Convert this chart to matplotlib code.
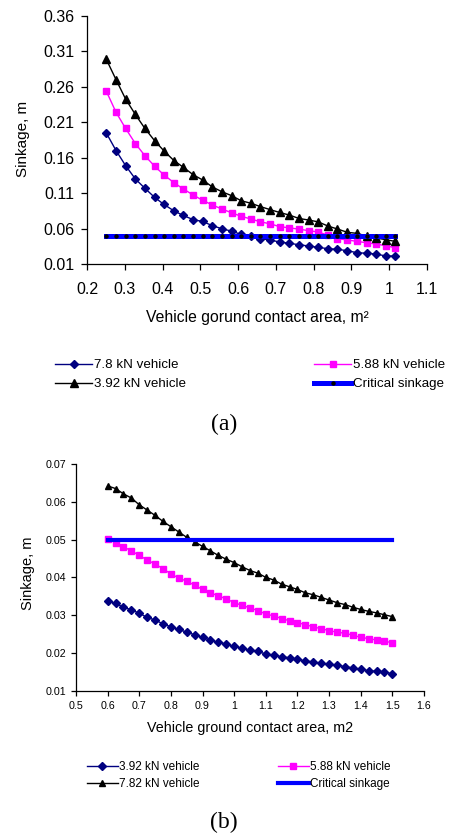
import matplotlib
matplotlib.use('Agg')
import matplotlib.pyplot as plt
from matplotlib.ticker import FixedLocator, FixedFormatter

plt.rcParams['font.family'] = ['Liberation Sans', 'DejaVu Sans']

# ---------------- data (a) ----------------
area_a = [0.251, 0.277, 0.302, 0.328, 0.353, 0.379, 0.404, 0.430, 0.455, 0.481,
          0.506, 0.532, 0.557, 0.583, 0.608, 0.634, 0.659, 0.685, 0.710, 0.736,
          0.761, 0.787, 0.812, 0.838, 0.863, 0.889, 0.914, 0.940, 0.965, 0.991, 1.015]
sink_78_a = [0.195, 0.170, 0.149, 0.130, 0.117, 0.104, 0.094, 0.085, 0.0785, 0.0726,
             0.070, 0.0641, 0.0598, 0.0563, 0.0518, 0.0495, 0.0457, 0.0439, 0.041, 0.0392,
             0.0372, 0.0354, 0.0335, 0.0316, 0.0307, 0.0288, 0.026, 0.0251, 0.0241, 0.0213, 0.0213]
sink_588_a = [0.254, 0.224, 0.2015, 0.180, 0.163, 0.148, 0.1356, 0.1248, 0.1159, 0.1074,
              0.0999, 0.0933, 0.0876, 0.0823, 0.0773, 0.0735, 0.0695, 0.0667, 0.0627, 0.061,
              0.0592, 0.057, 0.0552, 0.0505, 0.0457, 0.0439, 0.042, 0.040, 0.0382, 0.0358, 0.033]
sink_392_a = [0.299, 0.270, 0.243, 0.221, 0.2015, 0.184, 0.1695, 0.156, 0.1465, 0.136,
              0.1286, 0.1187, 0.112, 0.1064, 0.0993, 0.0957, 0.091, 0.0867, 0.0827, 0.079,
              0.0743, 0.072, 0.0695, 0.0635, 0.0594, 0.0547, 0.0533, 0.0495, 0.0467, 0.0443, 0.042]
critical_a = 0.05
xticks_a = [0.2, 0.3, 0.4, 0.5, 0.6, 0.7, 0.8, 0.9, 1.0, 1.1]
xticklabels_a = ['0.2', '0.3', '0.4', '0.5', '0.6', '0.7', '0.8', '0.9', '1', '1.1']
yticks_a = [0.01, 0.06, 0.11, 0.16, 0.21, 0.26, 0.31, 0.36]
yticklabels_a = ['0.01', '0.06', '0.11', '0.16', '0.21', '0.26', '0.31', '0.36']

# ---------------- data (b) ----------------
area_b = [0.6, 0.625, 0.65, 0.675, 0.7, 0.725, 0.75, 0.775, 0.8, 0.825,
          0.85, 0.875, 0.9, 0.925, 0.95, 0.975, 1.0, 1.025, 1.05, 1.075,
          1.1, 1.125, 1.15, 1.175, 1.2, 1.225, 1.25, 1.275, 1.3, 1.325,
          1.35, 1.375, 1.4, 1.425, 1.45, 1.475, 1.5]
sink_392_b = [0.0338, 0.0331, 0.0321, 0.0314, 0.0305, 0.0294, 0.0287, 0.0277, 0.0269, 0.0262,
              0.0255, 0.0248, 0.0241, 0.0234, 0.0228, 0.0224, 0.0217, 0.0213, 0.0207, 0.0204,
              0.0197, 0.0194, 0.0190, 0.0187, 0.0183, 0.0179, 0.0176, 0.0172, 0.0171, 0.0167,
              0.0164, 0.0160, 0.0157, 0.0153, 0.0151, 0.0149, 0.0145]
sink_588_b = [0.0502, 0.0492, 0.0481, 0.0470, 0.0458, 0.0446, 0.0435, 0.0423, 0.0409, 0.0398,
              0.0390, 0.0379, 0.0368, 0.0359, 0.0351, 0.0343, 0.0333, 0.0326, 0.0319, 0.0312,
              0.0303, 0.0298, 0.0291, 0.0285, 0.0280, 0.0275, 0.0269, 0.0264, 0.0259, 0.0255,
              0.0252, 0.0247, 0.0241, 0.0238, 0.0234, 0.0231, 0.0227]
sink_782_b = [0.0642, 0.0635, 0.0621, 0.0610, 0.0592, 0.0578, 0.0564, 0.0548, 0.0534, 0.0520,
              0.0506, 0.0494, 0.0482, 0.0470, 0.0458, 0.0448, 0.0439, 0.0428, 0.0418, 0.0411,
              0.0400, 0.0393, 0.0382, 0.0375, 0.0368, 0.0359, 0.0354, 0.0347, 0.0340, 0.0333,
              0.0328, 0.0321, 0.0315, 0.0310, 0.0306, 0.0301, 0.0296]
critical_b = 0.05
xticks_b = [0.5, 0.6, 0.7, 0.8, 0.9, 1.0, 1.1, 1.2, 1.3, 1.4, 1.5, 1.6]
xticklabels_b = ['0.5', '0.6', '0.7', '0.8', '0.9', '1', '1.1', '1.2', '1.3', '1.4', '1.5', '1.6']
yticks_b = [0.01, 0.02, 0.03, 0.04, 0.05, 0.06, 0.07]
yticklabels_b = ['0.01', '0.02', '0.03', '0.04', '0.05', '0.06', '0.07']

NAVY = '#000080'
MAG = '#FF00FF'
BLUE = '#0000FF'

W, H = 450, 836
fig = plt.figure(figsize=(W / 100, H / 100), dpi=100)


def rect(l, t, r, b):
    return [l / W, 1 - b / H, (r - l) / W, (b - t) / H]


def style(ax, fs, xpad, ypad, ticklen):
    for s in ['top', 'right']:
        ax.spines[s].set_visible(False)
    for s in ['left', 'bottom']:
        ax.spines[s].set_linewidth(0.9)
    ax.tick_params(axis='both', direction='out', length=ticklen, width=0.9,
                   labelsize=fs, colors='black')
    ax.tick_params(axis='x', pad=xpad)
    ax.tick_params(axis='y', pad=ypad)


# ---------------- chart (a) ----------------
ax1 = fig.add_axes(rect(87, 16, 427, 264))
l1, = ax1.plot(area_a, sink_78_a, color=NAVY, lw=1.0, marker='D', ms=4.3, label='7.8 kN vehicle')
l2, = ax1.plot(area_a, sink_588_a, color=MAG, lw=1.0, marker='s', ms=4.5, label='5.88 kN vehicle')
l3, = ax1.plot(area_a, sink_392_a, color='black', lw=1.0, marker='^', ms=6, label='3.92 kN vehicle')
l4, = ax1.plot(area_a, [critical_a] * len(area_a), color=BLUE, lw=3.6, marker='o', ms=2.2,
               mfc='black', mec='black', label='Critical sinkage')
ax1.set_xlim(0.2, 1.1)
ax1.set_ylim(0.01, 0.36)
ax1.xaxis.set_major_locator(FixedLocator(xticks_a))
ax1.xaxis.set_major_formatter(FixedFormatter(xticklabels_a))
ax1.yaxis.set_major_locator(FixedLocator(yticks_a))
ax1.yaxis.set_major_formatter(FixedFormatter(yticklabels_a))
style(ax1, 11.5, 9, 5, 4)
fig.text(23 / W, 1 - 139 / H, 'Sinkage, m', rotation=90, ha='center', va='center', fontsize=11)
fig.text(257 / W, 1 - 318 / H, 'Vehicle gorund contact area, m²', ha='center', va='center', fontsize=11.3)
fig.legend([l1, l3, l2, l4], [l1.get_label(), l3.get_label(), l2.get_label(), l4.get_label()],
           ncol=2, loc='upper left', bbox_to_anchor=(55 / W, 1 - 359 / H), frameon=False,
           fontsize=9.6, handlelength=2.8, handletextpad=0.12, columnspacing=9.6,
           labelspacing=0.5, borderpad=0, borderaxespad=0)
fig.text(224 / W, 1 - 424 / H, '(a)', ha='center', va='center', fontsize=17,
         family=['Liberation Serif', 'DejaVu Serif'])

# ---------------- chart (b) ----------------
ax2 = fig.add_axes(rect(76, 464, 424, 690.7))
m1, = ax2.plot(area_b, sink_392_b, color=NAVY, lw=1.0, marker='D', ms=3.6, label='3.92 kN vehicle')
m2, = ax2.plot(area_b, sink_588_b, color=MAG, lw=1.0, marker='s', ms=3.8, label='5.88 kN vehicle')
m3, = ax2.plot(area_b, sink_782_b, color='black', lw=1.0, marker='^', ms=5, label='7.82 kN vehicle')
m4, = ax2.plot(area_b, [critical_b] * len(area_b), color=BLUE, lw=3.0, label='Critical sinkage')
ax2.set_xlim(0.5, 1.6)
ax2.set_ylim(0.01, 0.07)
ax2.xaxis.set_major_locator(FixedLocator(xticks_b))
ax2.xaxis.set_major_formatter(FixedFormatter(xticklabels_b))
ax2.yaxis.set_major_locator(FixedLocator(yticks_b))
ax2.yaxis.set_major_formatter(FixedFormatter(yticklabels_b))
style(ax2, 7.7, 4, 3.5, 3.5)
fig.text(27.7 / W, 1 - 573 / H, 'Sinkage, m', rotation=90, ha='center', va='center', fontsize=10.5)
fig.text(250 / W, 1 - 728 / H, 'Vehicle ground contact area, m2', ha='center', va='center', fontsize=10.3)
fig.legend([m1, m3, m2, m4], [m1.get_label(), m3.get_label(), m2.get_label(), m4.get_label()],
           ncol=2, loc='upper left', bbox_to_anchor=(87 / W, 1 - 761 / H), frameon=False,
           fontsize=8.5, handlelength=2.6, handletextpad=0.15, columnspacing=6.6,
           labelspacing=0.45, borderpad=0, borderaxespad=0)
fig.text(224 / W, 1 - 822 / H, '(b)', ha='center', va='center', fontsize=17,
         family=['Liberation Serif', 'DejaVu Serif'])

fig.savefig('out.png', dpi=100)
